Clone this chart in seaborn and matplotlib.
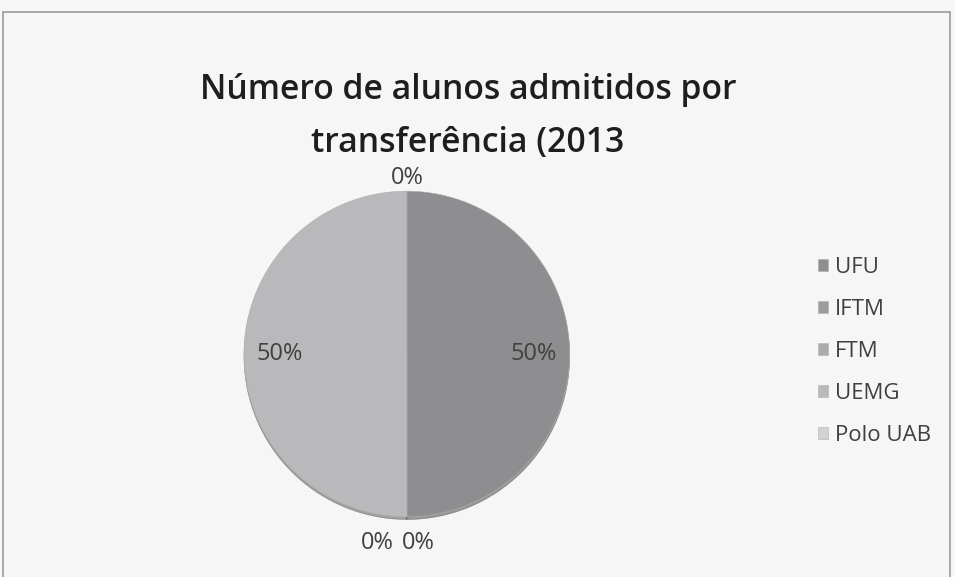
import numpy as np
import seaborn as sns
import matplotlib.pyplot as plt
from matplotlib.patches import Rectangle

# Dados (transferências 2013)
instituicoes = ["UFU", "IFTM", "FTM", "UEMG", "Polo UAB"]
alunos = [1, 0, 0, 1, 0]
cores = ["#8e8e90", "#9c9c9d", "#ababac", "#b9b9bb", "#d2d2d3"]
titulo = "Número de alunos admitidos por\ntransferência (2013"

sns.set_theme(style="white")
plt.rcParams["font.family"] = ["Open Sans", "DejaVu Sans"]

fig = plt.figure(figsize=(9.55, 5.77), dpi=100)
fig.patch.set_facecolor("#f6f6f6")
fig.patches.append(Rectangle((0.003, -0.05), 0.992, 1.029, transform=fig.transFigure,
                             fill=False, edgecolor="#9a9a9a", linewidth=1.2))

fig.text(0.49, 0.798, titulo, ha="center", va="center", fontsize=24.3,
         fontweight="semibold", color="#1e1e1e", linespacing=1.72)

ax = fig.add_axes([0.2555, 0.104, 0.341, 0.565])
total = sum(alunos)
wedges, _ = ax.pie(alunos, colors=cores, startangle=90, counterclock=False,
                   wedgeprops=dict(linewidth=0.4, edgecolor="#b0b0b2"),
                   shadow=dict(ox=0.0, oy=-0.012, shade=0.6))
ax.set_xlim(-1, 1)
ax.set_ylim(-1, 1)
ax.set_aspect("equal")

# rótulos de porcentagem
vistos = {}
for w, v in zip(wedges, alunos):
    ang = np.deg2rad((w.theta1 + w.theta2) / 2)
    pct = f"{round(100 * v / total)}%"
    if v > 0:
        r = 0.78
        x, y = r * np.cos(ang), r * np.sin(ang)
        dx = 0
    else:
        r = 1.14
        x, y = r * np.cos(ang), r * np.sin(ang)
        chave = round(w.theta1)
        n = vistos.get(chave, 0)
        vistos[chave] = n + 1
        dx = 0
        if abs(np.sin(ang)) > 0.99 and np.sin(ang) < 0:
            dx = -0.18 if n == 0 else 0.07
            y = -1.16
        if np.sin(ang) > 0.99:
            y = 1.08
    ax.text(x + dx, y, pct, ha="center", va="center", fontsize=17,
            color="#404040", clip_on=False)

leg = fig.legend(wedges, instituicoes, loc="upper left", bbox_to_anchor=(0.836, 0.590),
                 frameon=False, fontsize=16, handlelength=0.45, handleheight=0.45,
                 handletextpad=0.3, labelspacing=0.95, labelcolor="#404040")

fig.savefig("out.png", dpi=100, facecolor=fig.get_facecolor())
